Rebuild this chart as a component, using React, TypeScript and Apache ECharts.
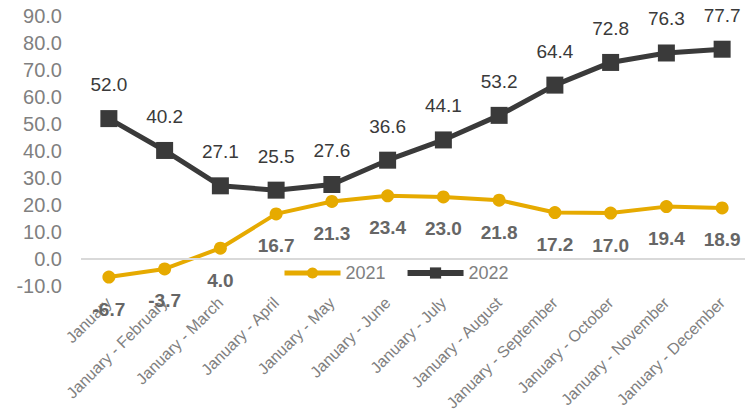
import React, { useEffect, useRef } from "react";
import * as echarts from "echarts";

const categories = [
  "January",
  "January - February",
  "January - March",
  "January - April",
  "January - May",
  "January - June",
  "January - July",
  "January - August",
  "January - September",
  "January - October",
  "January - November",
  "January - December",
];
const values2021 = [-6.7, -3.7, 4.0, 16.7, 21.3, 23.4, 23.0, 21.8, 17.2, 17.0, 19.4, 18.9];
const values2022 = [52.0, 40.2, 27.1, 25.5, 27.6, 36.6, 44.1, 53.2, 64.4, 72.8, 76.3, 77.7];
const yMin = -10;
const yMax = 90;
const yInterval = 10;

export default function App() {
  const ref = useRef<HTMLDivElement>(null);
  useEffect(() => {
    if (!ref.current) return;
    const chart = echarts.init(ref.current, undefined, { renderer: "svg" });
    const font = "Liberation Sans, Arial, sans-serif";
    chart.setOption({
      animation: false,
      textStyle: { fontFamily: font },
      grid: { left: 81, right: -5, top: 16, bottom: 125, containLabel: false, outerBoundsMode: "none" },
      legend: {
        left: 277,
        top: 259,
        itemWidth: 56,
        itemHeight: 14,
        itemGap: 19,
        textStyle: { color: "#808080", fontSize: 18, fontFamily: font },
        data: [
          { name: "2021", lineStyle: { width: 5 } },
          { name: "2022", lineStyle: { width: 6 } },
        ],
      },
      xAxis: {
        type: "category",
        data: categories,
        boundaryGap: true,
        axisLine: { show: false, onZero: false },
        axisTick: { show: false },
        axisLabel: {
          rotate: 45,
          interval: 0,
          color: "#808080",
          fontSize: 16,
          margin: 14,
          fontFamily: font,
        },
      },
      yAxis: {
        type: "value",
        min: yMin,
        max: yMax,
        interval: yInterval,
        axisLine: { show: false },
        axisTick: { show: false },
        splitLine: { show: false },
        axisLabel: {
          color: "#808080",
          fontSize: 20,
          margin: 19,
          fontFamily: font,
          formatter: (v: number) => v.toFixed(1),
        },
      },
      series: [
        {
          name: "2021",
          type: "line",
          data: values2021,
          symbol: "circle",
          symbolSize: 13,
          lineStyle: { color: "#E6AA00", width: 4 },
          itemStyle: { color: "#E6AA00" },
          label: {
            show: true,
            position: "bottom",
            distance: 16,
            color: "#666666",
            fontWeight: "bold",
            fontSize: 19,
            fontFamily: font,
            formatter: (p: any) => Number(p.value).toFixed(1),
          },
          markLine: {
            silent: true,
            symbol: "none",
            label: { show: false },
            lineStyle: { color: "#d9d9d9", width: 2, type: "solid" },
            data: [{ yAxis: 0 }],
          },
          z: 3,
        },
        {
          name: "2022",
          type: "line",
          data: values2022,
          symbol: "rect",
          symbolSize: 17,
          lineStyle: { color: "#3a3a3a", width: 5 },
          itemStyle: { color: "#3a3a3a" },
          label: {
            show: true,
            position: "top",
            distance: 16,
            color: "#3a3a3a",
            fontSize: 19,
            fontFamily: font,
            formatter: (p: any) => Number(p.value).toFixed(1),
          },
          z: 4,
        },
      ],
    });
    return () => chart.dispose();
  }, []);
  return (
    <div
      ref={ref}
      style={{ position: "fixed", left: 0, top: 0, width: 745, height: 411, background: "#fff" }}
    />
  );
}
